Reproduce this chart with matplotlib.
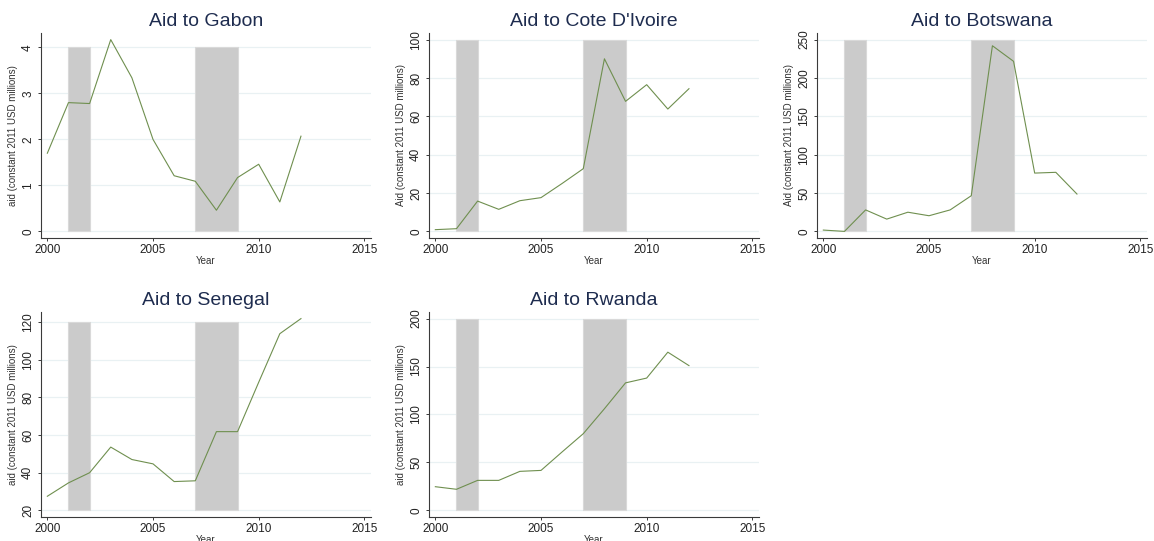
import matplotlib
matplotlib.use("Agg")
import matplotlib.pyplot as plt
import numpy as np

plt.rcParams['font.family'] = ['Liberation Sans', 'DejaVu Sans']

years = [2000, 2001, 2002, 2003, 2004, 2005, 2006, 2007, 2008, 2009, 2010, 2011, 2012]

gabon = [1.70, 2.80, 2.78, 4.17, 3.34, 2.00, 1.21, 1.09, 0.46, 1.17, 1.46, 0.64, 2.07]
cote = [0.9, 1.4, 15.8, 11.5, 16.0, 17.6, 25.0, 32.7, 90.0, 67.8, 76.5, 63.8, 74.4]
botswana = [1.7, 0.0, 28.0, 16.0, 25.0, 20.4, 28.0, 46.5, 242.0, 221.7, 76.0, 77.0, 48.7]
senegal = [27.5, 34.6, 40.0, 53.6, 47.0, 44.7, 35.3, 35.7, 61.8, 61.8, 88.0, 113.8, 121.8]
rwanda = [24.7, 22.0, 31.3, 31.3, 40.7, 41.7, 61.0, 80.0, 106.0, 133.0, 138.0, 165.0, 151.0]

titles = ["Aid to Gabon", "Aid to Cote D'Ivoire", "Aid to Botswana", "Aid to Senegal", "Aid to Rwanda"]
ylabels = ["aid (constant 2011 USD millions)", "Aid (constant 2011 USD millions)",
           "Aid (constant 2011 USD millions)", "aid (constant 2011 USD millions)",
           "aid (constant 2011 USD millions)"]
yticks_list = [[0, 1, 2, 3, 4], [0, 20, 40, 60, 80, 100], [0, 50, 100, 150, 200, 250],
               [20, 40, 60, 80, 100, 120], [0, 50, 100, 150, 200]]
xticks = [2000, 2005, 2010, 2015]
shade_periods = [(2001, 2002), (2007, 2009)]
series = [gabon, cote, botswana, senegal, rwanda]

W, H = 1154, 541
fig = plt.figure(figsize=(W / 100, H / 100), dpi=100)

col_left = [41, 429, 817]
row_top = [33, 312]
ax_w = 329.7
ax_h = 205

line_color = '#6f8f4f'
title_color = '#1e2c4f'
grid_color = '#e9f1f3'
shade_color = '#cbcbcb'
spine_color = '#3a3a3a'

for i, (vals, title, ylab, yt) in enumerate(zip(series, titles, ylabels, yticks_list)):
    r, c = divmod(i, 3)
    left = col_left[c] / W
    bottom = 1 - (row_top[r] + ax_h) / H
    ax = fig.add_axes([left, bottom, ax_w / W, ax_h / H])

    lo = min(yt[0], min(vals))
    hi = max(yt[-1], max(vals))
    m = 0.0345 * (hi - lo)
    ax.set_ylim(lo - m, hi + m)
    xm = 0.02 * (xticks[-1] - xticks[0])
    ax.set_xlim(xticks[0] - xm, xticks[-1] + xm)

    for yv in yt:
        ax.axhline(yv, color=grid_color, lw=0.9, zorder=0)

    for (a, b) in shade_periods:
        ax.fill_between([a, b], yt[0], yt[-1], facecolor=shade_color,
                        edgecolor='#d9d9d9', lw=0.8, zorder=1)

    ax.plot(years, vals, color=line_color, lw=0.8, zorder=3)

    ax.set_yticks(yt)
    ax.set_yticklabels([str(v) for v in yt], rotation=90, va='center')
    ax.set_xticks(xticks)
    ax.set_xticklabels([str(v) for v in xticks])

    for s in ['top', 'right']:
        ax.spines[s].set_visible(False)
    for s in ['left', 'bottom']:
        ax.spines[s].set_color(spine_color)
        ax.spines[s].set_linewidth(0.8)

    ax.tick_params(axis='both', which='major', length=2.5, width=0.7,
                   color=spine_color, labelsize=8.5, labelcolor='#222222')
    ax.tick_params(axis='x', pad=2)
    ax.tick_params(axis='y', pad=2.5)

    ax.set_title(title, fontsize=14, color=title_color, pad=5)
    ax.set_xlabel("Year", fontsize=7, color='#333333', labelpad=0)
    ax.set_ylabel(ylab, fontsize=7, color='#333333', labelpad=3)
    ax.set_facecolor('white')

fig.savefig("out.png", dpi=100, facecolor='white')
